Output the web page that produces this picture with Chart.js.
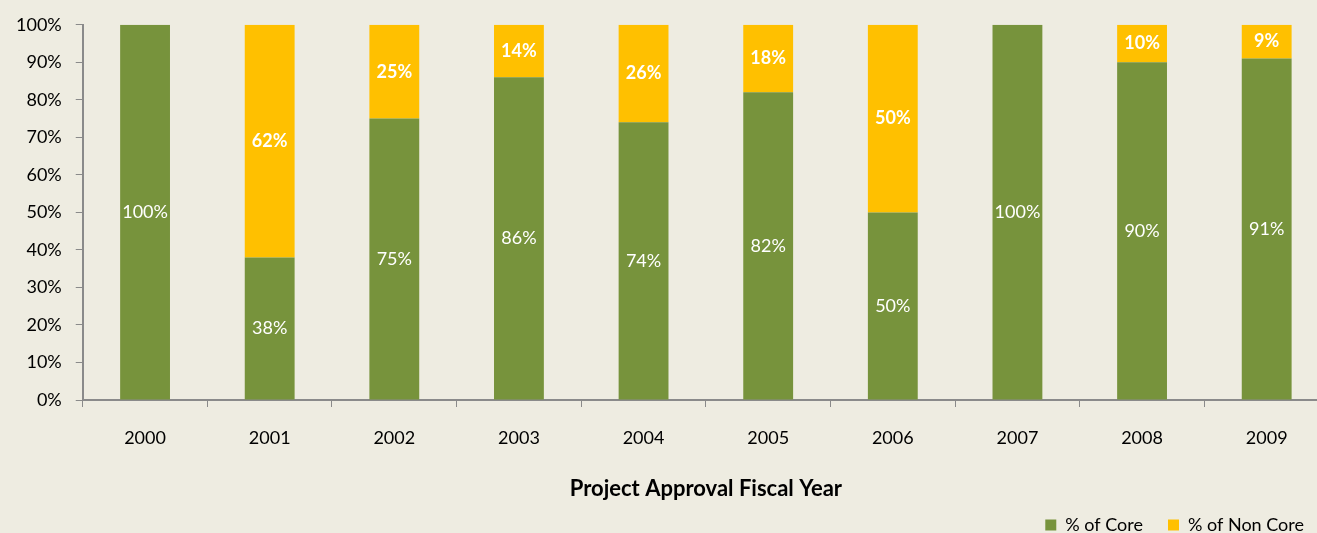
<!DOCTYPE html>
<html>
<head>
<meta charset="utf-8">
<script src="https://cdn.jsdelivr.net/npm/chart.js@4.4.1/dist/chart.umd.min.js"></script>
<style>
  html, body { margin: 0; padding: 0; background: #EEECE1; overflow: hidden; width: 1317px; height: 533px; }
  #wrap { position: absolute; left: 0; top: 0; width: 1330px; height: 533px; }
</style>
</head>
<body>
<div id="wrap"><canvas id="c" width="1330" height="533"></canvas></div>
<script>
const categories = ['2000','2001','2002','2003','2004','2005','2006','2007','2008','2009'];
const coreValues = [100, 38, 75, 86, 74, 82, 50, 100, 90, 91];
const nonCoreValues = [0, 62, 25, 14, 26, 18, 50, 0, 10, 9];
const seriesNames = ['% of Core', '% of Non Core'];
const xTitle = 'Project Approval Fiscal Year';

Chart.defaults.font.family = 'Lato, "Liberation Sans", sans-serif';
Chart.defaults.font.size = 18;
Chart.defaults.color = '#000';

const barLabels = {
  id: 'barLabels',
  afterDatasetsDraw(chart) {
    const ctx = chart.ctx;
    chart.data.datasets.forEach((ds, di) => {
      const meta = chart.getDatasetMeta(di);
      meta.data.forEach((el, i) => {
        const v = ds.data[i];
        if (!v) return;
        const p = el.getProps(['x', 'y', 'base'], true);
        ctx.save();
        ctx.fillStyle = '#fff';
        ctx.font = (di === 1 ? 'bold ' : '') + '18px Lato';
        ctx.textAlign = 'center';
        ctx.textBaseline = 'middle';
        ctx.fillText(v + '%', p.x, (p.y + p.base) / 2);
        ctx.restore();
      });
    });
  }
};

new Chart(document.getElementById('c'), {
  type: 'bar',
  data: {
    labels: categories,
    datasets: [
      { label: seriesNames[0], data: coreValues, backgroundColor: '#77933C', borderWidth: 0 },
      { label: seriesNames[1], data: nonCoreValues, backgroundColor: '#FFC000', borderWidth: 0 }
    ]
  },
  options: {
    responsive: false,
    animation: false,
    layout: { padding: { top: 10, left: 2, right: 1, bottom: -11 } },
    datasets: { bar: { categoryPercentage: 1, barPercentage: 0.4 } },
    plugins: {
      legend: {
        position: 'bottom',
        align: 'end',
        labels: { boxWidth: 11, boxHeight: 11, padding: 25, font: { size: 18 }, color: '#000' }
      },
      tooltip: { enabled: false }
    },
    scales: {
      x: {
        stacked: true,
        grid: { drawOnChartArea: false, tickLength: 7, color: '#8a8a8a', offset: true },
        border: { color: '#8a8a8a', width: 2 },
        ticks: { padding: 20, font: { size: 18 }, color: '#000' },
        title: { display: true, text: xTitle, font: { size: 22, weight: 'bold' }, color: '#000', padding: { top: 7, bottom: -11 } }
      },
      y: {
        stacked: true,
        min: 0, max: 100,
        grid: { drawOnChartArea: false, tickLength: 7, color: '#8a8a8a' },
        border: { color: '#8a8a8a', width: 2 },
        ticks: { stepSize: 10, padding: 14, font: { size: 18 }, color: '#000', callback: v => v + '%' }
      }
    }
  },
  plugins: [barLabels]
});
</script>
</body>
</html>
